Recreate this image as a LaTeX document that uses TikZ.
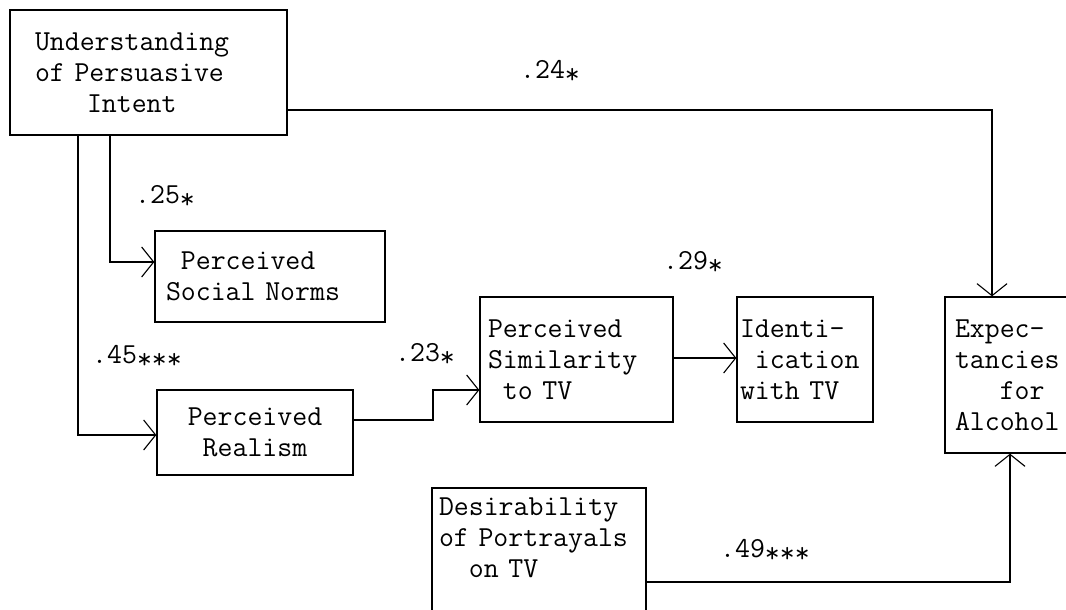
\documentclass[tikz,border=0pt]{standalone}
\usepackage{fontspec}
\usetikzlibrary{arrows.meta,calc}
\newcommand\stm{\raisebox{-0.35ex}{*}}
\newcommand\fs{\ttfamily\fontsize{29}{31}\selectfont}
\begin{document}
\begin{tikzpicture}[x=1pt,y=-1pt,
  box/.style={draw, line width=1.3pt, rectangle, inner sep=0pt, font=\fs},
  lab/.style={inner sep=0pt, font=\fs},
  conn/.style={line width=1.3pt, -{Straight Barb[length=12pt,width=30pt,line width=1.1pt]}}]
\fill[white] (0,0) rectangle (1066,610);
\useasboundingbox (0,0) rectangle (1066,610);
\clip (0,0) rectangle (1066,610);

\node[box, minimum width=277pt, minimum height=125pt, text width=227pt, align=left] (upi) at (148.5,72.5)
  {Understanding\\of Persuasive\\\hspace*{52pt}Intent};
\node[box, minimum width=230pt, minimum height=91pt, text width=208pt, align=left] (norms) at (270,276.5)
  {\hphantom{x}Perceived\\Social Norms};
\node[box, minimum width=196pt, minimum height=85pt, align=center] (real) at (255,432.5)
  {Perceived\\Realism};
\node[box, minimum width=193pt, minimum height=125pt, text width=177pt, align=left] (sim) at (576.5,359.5)
  {Perceived\\Similarity\\\hphantom{x}to TV};
\node[box, minimum width=136pt, minimum height=125pt, text width=130pt, align=left] (iden) at (805,359.5)
  {Identi-\\\hphantom{x}ication\\with TV};
\node[box, minimum width=130pt, minimum height=156pt, text width=110pt, align=left] (exp) at (1010,375)
  {Expec-\\tancies\\\hphantom{xxx}for\\Alcohol};
\node[box, minimum width=214pt, minimum height=162pt, text width=200pt, align=left] (desir) at (539,569)
  {Desirability\\of Portrayals\\\hphantom{xx}on TV\\\mbox{}\\\mbox{}};

\node[lab] (l24) at (550,72) {.24\stm};
\node[lab] (l25) at (165,197) {.25\stm};
\node[lab] (l29) at (693,263) {.29\stm};
\node[lab] (l45) at (137,357) {.45\stm\stm\stm};
\node[lab] (l23) at (425,355) {.23\stm};
\node[lab] (l49) at (765,551) {.49\stm\stm\stm};

\coordinate (step) at (433,405);
\draw[conn] (upi.east |- 0,110) -| (exp.north -| 992,0);
\draw[conn] (upi.south -| 110,0) |- (norms.west |- 0,262);
\draw[conn] (upi.south -| 78,0) |- (real.west |- 0,435);
\draw[conn] (real.east |- 0,420) -| (step) |- (sim.west |- 0,390);
\draw[conn] (sim.east |- 0,358) -- (iden.west |- 0,358);
\draw[conn] (desir.east |- 0,582) -| (exp.south -| 1010,0);
\end{tikzpicture}
\end{document}
